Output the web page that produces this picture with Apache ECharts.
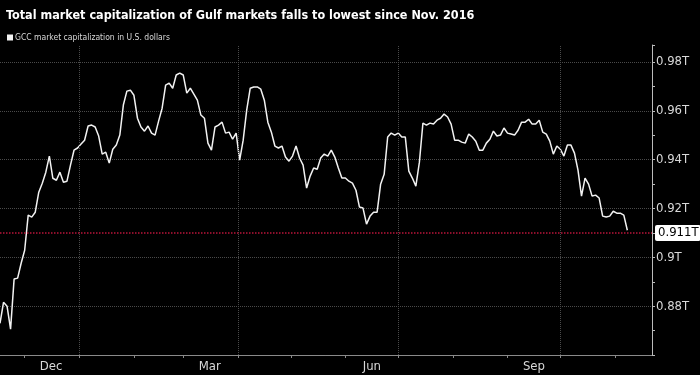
<!DOCTYPE html>
<html>
<head>
<meta charset="utf-8">
<script src="https://cdn.jsdelivr.net/npm/echarts@6/dist/echarts.min.js"></script>
<style>
  html, body { margin: 0; padding: 0; background: #000; }
  #chart { width: 700px; height: 375px; }
</style>
</head>
<body>
<div id="chart"></div>
<script>
// GCC market cap, one reading every 2 days from 17 Nov 2016 (trillions USD)
const startDate = '2016-11-17';
const stepDays = 2;
const capValues = [
  0.8730, 0.8816, 0.8800, 0.8706, 0.8911, 0.8915, 0.8976, 0.9029, 0.9173, 0.9165,
  0.9185, 0.9267, 0.9304, 0.9349, 0.9415, 0.9324, 0.9316, 0.9349, 0.9308, 0.9312,
  0.9378, 0.9439, 0.9448, 0.9464, 0.9480, 0.9538, 0.9542, 0.9534, 0.9497, 0.9423,
  0.9431, 0.9386, 0.9443, 0.9460, 0.9501, 0.9624, 0.9681, 0.9685, 0.9664, 0.9570,
  0.9534, 0.9517, 0.9538, 0.9509, 0.9501, 0.9558, 0.9611, 0.9706, 0.9714, 0.9693,
  0.9747, 0.9755, 0.9747, 0.9673, 0.9693, 0.9669, 0.9644, 0.9583, 0.9570, 0.9468,
  0.9439, 0.9534, 0.9542, 0.9554, 0.9509, 0.9513, 0.9484, 0.9509, 0.9398, 0.9480,
  0.9603, 0.9693, 0.9698, 0.9698, 0.9689, 0.9644, 0.9554, 0.9513, 0.9456, 0.9448,
  0.9456, 0.9411, 0.9394, 0.9415, 0.9456, 0.9407, 0.9378, 0.9284, 0.9333, 0.9366,
  0.9361, 0.9407, 0.9423, 0.9415, 0.9439, 0.9411, 0.9366, 0.9325, 0.9325, 0.9312,
  0.9304, 0.9275, 0.9206, 0.9202, 0.9136, 0.9169, 0.9185, 0.9185, 0.9300, 0.9340,
  0.9493, 0.9509, 0.9501, 0.9509, 0.9493, 0.9493, 0.9353, 0.9325, 0.9292, 0.9390,
  0.9550, 0.9542, 0.9550, 0.9546, 0.9562, 0.9570, 0.9587, 0.9575, 0.9546, 0.9480,
  0.9480, 0.9472, 0.9468, 0.9505, 0.9493, 0.9476, 0.9439, 0.9439, 0.9468, 0.9484,
  0.9517, 0.9497, 0.9501, 0.9530, 0.9509, 0.9505, 0.9501, 0.9521, 0.9554, 0.9554,
  0.9566, 0.9546, 0.9546, 0.9562, 0.9513, 0.9505, 0.9476, 0.9423, 0.9456, 0.9443,
  0.9415, 0.9460, 0.9460, 0.9427, 0.9357, 0.9251, 0.9325, 0.9300, 0.9251, 0.9255,
  0.9243, 0.9169, 0.9165, 0.9169, 0.9189, 0.9181, 0.9181, 0.9173, 0.9111
];
const lastValue = 0.911;

const monthStarts = ['2016-12-01', '2017-01-01', '2017-02-01', '2017-03-01', '2017-04-01', '2017-05-01',
  '2017-06-01', '2017-07-01', '2017-08-01', '2017-09-01', '2017-10-01', '2017-11-01'];
const quarterLines = ['2017-01-01', '2017-04-01', '2017-07-01', '2017-10-01'];
const monthLabelDates = ['2016-12-16', '2017-03-16', '2017-06-16', '2017-09-16'];
const monthLabelNames = ['Dec', 'Mar', 'Jun', 'Sep'];

const titleText = 'Total market capitalization of Gulf markets falls to lowest since Nov. 2016';
const seriesName = 'GCC market capitalization in U.S. dollars';

const DAY = 86400000;
const t0 = Date.parse(startDate);
const lineData = capValues.map((v, i) => [t0 + i * stepDays * DAY, v]);
const labelStamps = monthLabelDates.map(d => Date.parse(d));

const font = '"Liberation Sans Narrow", "DejaVu Sans Condensed", "Liberation Sans", sans-serif';
const gridColor = '#4a4a4a';

const chart = echarts.init(document.getElementById('chart'));
chart.setOption({
  backgroundColor: '#000',
  animation: false,
  textStyle: { fontFamily: font },
  title: {
    text: titleText,
    left: 1,
    top: 4,
    textStyle: { color: '#fff', fontSize: 12.5, fontWeight: 'bold', fontFamily: font }
  },
  legend: {
    data: [seriesName],
    left: 2,
    top: 28,
    icon: 'rect',
    itemWidth: 6,
    itemHeight: 6,
    textStyle: { color: '#d8d8d8', fontSize: 8.5, fontFamily: font, padding: [0, 0, 0, -3] }
  },
  grid: { left: 0, right: 48, top: 45, bottom: 20 },
  xAxis: {
    type: 'value',
    min: Date.parse('2016-11-17'),
    max: Date.parse('2017-11-22'),
    axisLine: { lineStyle: { color: '#8a8a8a', width: 1 } },
    axisTick: {
      show: true,
      customValues: monthStarts.map(d => Date.parse(d)),
      length: 3,
      lineStyle: { color: '#8a8a8a' }
    },
    axisLabel: {
      customValues: labelStamps,
      formatter: (val) => {
        const i = labelStamps.indexOf(val);
        return i >= 0 ? monthLabelNames[i] : '';
      },
      color: '#d8d8d8',
      fontSize: 13,
      margin: 5,
      fontFamily: font
    },
    splitLine: { show: false }
  },
  yAxis: {
    type: 'value',
    position: 'right',
    min: 0.86,
    max: 0.987,
    interval: 0.02,
    axisLine: { show: true, lineStyle: { color: '#bbbbbb', width: 1 } },
    axisTick: { show: true, length: 3, lineStyle: { color: '#bbbbbb' } },
    minorTick: { show: true, splitNumber: 2, length: 3, lineStyle: { color: '#bbbbbb' } },
    axisLabel: {
      showMinLabel: false,
      showMaxLabel: false,
      formatter: (v) => parseFloat(v.toFixed(3)) + 'T',
      color: '#d8d8d8',
      fontSize: 13,
      margin: 4,
      fontFamily: font
    },
    splitLine: {
      show: true,
      showMinLine: false,
      showMaxLine: false,
      lineStyle: { color: gridColor, type: 'dotted', width: 1 }
    }
  },
  series: [{
    name: seriesName,
    type: 'line',
    data: lineData,
    showSymbol: false,
    symbol: 'none',
    lineStyle: { color: '#f2f2f2', width: 1.5 },
    itemStyle: { color: '#f2f2f2' },
    markLine: {
      silent: true,
      symbol: ['none', 'none'],
      data: [
        ...quarterLines.map(d => ({
          xAxis: Date.parse(d),
          label: { show: false },
          lineStyle: { color: gridColor, type: 'dotted', width: 1 }
        })),
        {
          yAxis: lastValue,
          lineStyle: { color: '#b8143a', type: 'dotted', width: 1.5 },
          label: {
            show: true,
            position: 'end',
            formatter: lastValue + 'T',
            color: '#000',
            backgroundColor: '#fff',
            borderRadius: 2,
            padding: [2, 2, 1, 3],
            distance: 3,
            fontSize: 13,
            fontFamily: font
          }
        }
      ]
    }
  }]
});
</script>
</body>
</html>
